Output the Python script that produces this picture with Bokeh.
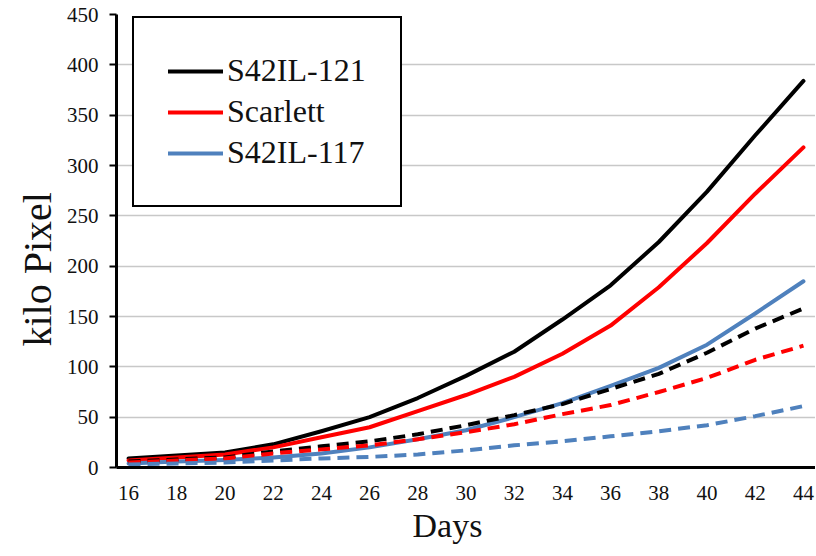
from bokeh.plotting import figure
from bokeh.models import Range1d, FixedTicker, Legend, LegendItem, Title
from bokeh.embed import file_html
from bokeh.resources import INLINE

days = [16, 18, 20, 22, 24, 26, 28, 30, 32, 34, 36, 38, 40, 42, 44]
s121_solid = [9, 12, 15, 23, 36, 50, 69, 91, 115, 147, 181, 224, 274, 330, 384]
scarlett_solid = [7, 10, 13, 20, 30, 40, 56, 72, 90, 113, 141, 179, 223, 272, 318]
s117_solid = [4, 6, 7.5, 10, 14, 20, 28, 37, 50, 64, 81, 99, 122, 153, 185]
s121_dash = [6, 8, 10, 16, 21, 26, 33, 42, 52, 63, 78, 93, 114, 138, 158]
scarlett_dash = [5, 7, 9, 14, 18, 22, 28, 35, 43, 53, 62, 75, 89, 107, 121]
s117_dash = [3, 4, 5, 7, 9, 10.5, 13, 17, 22, 26, 31, 36, 42, 51, 61]
y_ticks = [0, 50, 100, 150, 200, 250, 300, 350, 400, 450]
x_ticks = days
names = ["S42IL-121", "Scarlett", "S42IL-117"]
colors = ["#000000", "#ff0000", "#4f81bd"]
x_title = "Days"
y_title = "kilo Pixel"

FONT = "Liberation Serif"

p = figure(frame_width=699, frame_height=453, output_backend="svg", toolbar_location=None,
           x_range=Range1d(15.5, 44.5), y_range=Range1d(0, 450),
           min_border_left=116, min_border_right=0, min_border_top=14, min_border_bottom=88)
p.outline_line_color = None
p.background_fill_color = "white"
p.border_fill_color = "white"

p.xgrid.grid_line_color = None
p.ygrid.grid_line_color = "#c8c8c8"
p.ygrid.grid_line_width = 1.5

p.xaxis.ticker = FixedTicker(ticks=x_ticks)
p.yaxis.ticker = FixedTicker(ticks=y_ticks)
for ax in (p.xaxis[0], p.yaxis[0]):
    ax.axis_line_color = "black"
    ax.axis_line_width = 3
    ax.major_label_text_font = FONT
    ax.major_label_text_font_size = "21px"
    ax.major_label_text_color = "#111111"
    ax.minor_tick_line_color = None

p.xaxis.major_tick_line_color = None
p.xaxis.major_tick_out = 0
p.xaxis.major_tick_in = 0
p.xaxis.major_label_standoff = 18

p.yaxis.major_tick_line_color = "black"
p.yaxis.major_tick_line_width = 2
p.yaxis.major_tick_out = 7
p.yaxis.major_tick_in = 0
p.yaxis.major_label_standoff = 11

# axis titles as side titles so they can sit off-centre like the reference
p.add_layout(Title(text=y_title, align="left", offset=121, standoff=8,
                   text_font=FONT, text_font_size="40px", text_font_style="normal",
                   text_color="#111111"), "left")
p.add_layout(Title(text=x_title, align="left", offset=296, standoff=4,
                   text_font=FONT, text_font_size="34px", text_font_style="normal",
                   text_color="#111111"), "below")

solid_series = [s121_solid, scarlett_solid, s117_solid]
dash_series = [s121_dash, scarlett_dash, s117_dash]

items = []
for name, col, ys in zip(names, colors, solid_series):
    r = p.line(days, ys, line_color=col, line_width=4, line_cap="round", line_join="round")
    items.append(LegendItem(label=name, renderers=[r]))
for col, ys in zip(colors, dash_series):
    p.line(days, ys, line_color=col, line_width=4, line_dash="12 7")

legend = Legend(items=items, location=(16, 260))
legend.border_line_color = "black"
legend.border_line_alpha = 1.0
legend.border_line_width = 2.5
legend.background_fill_color = "white"
legend.background_fill_alpha = 1.0
legend.label_text_font = FONT
legend.label_text_font_size = "32px"
legend.label_text_color = "#111111"
legend.glyph_width = 55
legend.glyph_height = 36
legend.label_height = 36
legend.label_standoff = 4
legend.spacing = 4
legend.padding = 34
legend.margin = 0
legend.label_width = 138
p.add_layout(legend, "center")

open("out.html", "w").write(file_html(p, INLINE))
